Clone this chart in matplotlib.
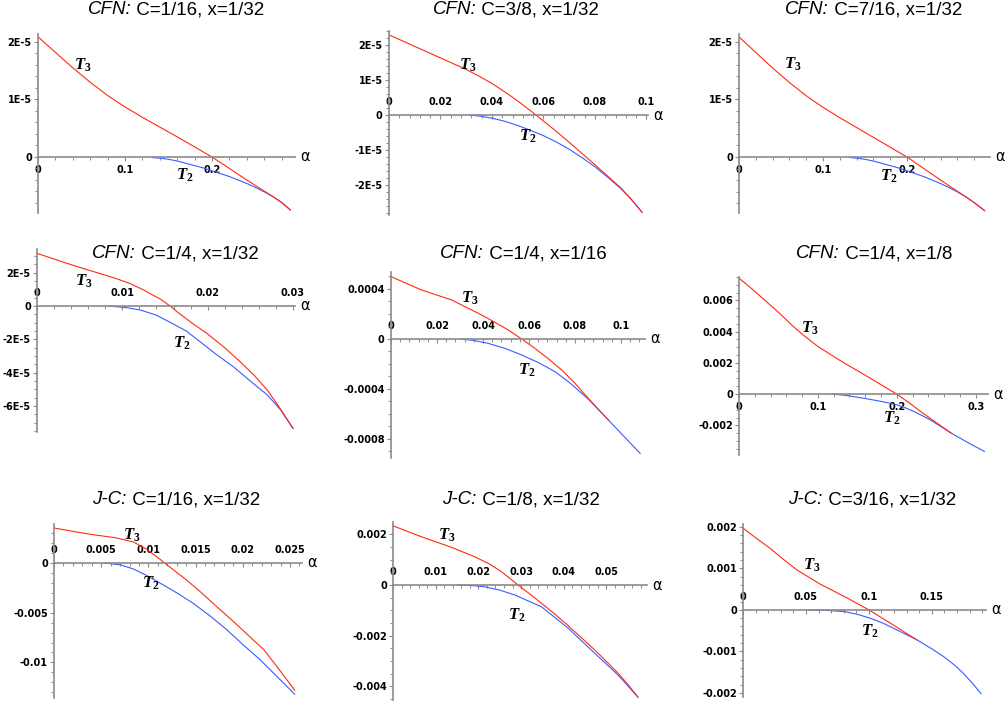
import numpy as np
import matplotlib
matplotlib.use('Agg')
import matplotlib.pyplot as plt
from matplotlib.ticker import MultipleLocator
from matplotlib.offsetbox import TextArea, HPacker, AnnotationBbox

plt.rcParams['font.family'] = ['Liberation Sans', 'DejaVu Sans']
plt.rcParams['mathtext.fontset'] = 'custom'
plt.rcParams['mathtext.it'] = 'Liberation Serif:italic:bold'
plt.rcParams['mathtext.rm'] = 'Liberation Serif:bold'

# --- titles
method = ['CFN', 'CFN', 'CFN', 'CFN', 'CFN', 'CFN', 'J-C', 'J-C', 'J-C']
params = ['C=1/16, x=1/32', 'C=3/8, x=1/32', 'C=7/16, x=1/32',
          'C=1/4, x=1/32', 'C=1/4, x=1/16', 'C=1/4, x=1/8',
          'C=1/16, x=1/32', 'C=1/8, x=1/32', 'C=3/16, x=1/32']

# --- T3 curves (red)
t3_a = [
    [0, 0.02, 0.04, 0.06, 0.08, 0.1, 0.12, 0.14, 0.16, 0.18, 0.2, 0.22, 0.24, 0.255, 0.27, 0.28, 0.29],
    [0, 0.01, 0.02, 0.03, 0.035, 0.04, 0.045, 0.05, 0.055, 0.06, 0.065, 0.07, 0.075, 0.08, 0.085, 0.09, 0.094, 0.0983],
    [0, 0.02, 0.04, 0.06, 0.08, 0.1, 0.12, 0.14, 0.16, 0.18, 0.2, 0.22, 0.24, 0.255, 0.27, 0.28, 0.2925],
    [0, 0.0035, 0.006, 0.0092, 0.011, 0.0125, 0.0145, 0.0156, 0.0164, 0.018, 0.0199, 0.022, 0.0238,
     0.0255, 0.027, 0.0285, 0.03],
    [0, 0.0133, 0.0264, 0.0394, 0.045, 0.051, 0.0568, 0.0626, 0.0685, 0.0742, 0.08, 0.0858, 0.09, 0.0945],
    [0, 0.0177, 0.0346, 0.0515, 0.0684, 0.081, 0.1, 0.116, 0.132, 0.1487, 0.166, 0.183, 0.2, 0.216,
     0.233, 0.251, 0.269],
    [0, 0.0034, 0.0066, 0.0084, 0.0098, 0.0112, 0.0117, 0.014, 0.0156, 0.0172, 0.019, 0.0207, 0.0222,
     0.0236, 0.0255],
    [0, 0.0066, 0.0137, 0.0191, 0.0225, 0.0254, 0.0293, 0.032, 0.0348, 0.038, 0.041, 0.044, 0.0473,
     0.05, 0.0527, 0.055, 0.0574],
    [0, 0.01, 0.0217, 0.032, 0.0429, 0.0614, 0.0825, 0.1, 0.1196, 0.138],
]
t3_v = [
    [2.09e-5, 1.82e-5, 1.55e-5, 1.30e-5, 1.07e-5, 0.87e-5, 0.69e-5, 0.52e-5, 0.35e-5, 0.175e-5, 0.0,
     -0.20e-5, -0.40e-5, -0.545e-5, -0.69e-5, -0.79e-5, -0.92e-5],
    [2.29e-5, 1.96e-5, 1.63e-5, 1.30e-5, 1.11e-5, 0.90e-5, 0.66e-5, 0.40e-5, 0.12e-5, -0.17e-5,
     -0.47e-5, -0.78e-5, -1.10e-5, -1.42e-5, -1.75e-5, -2.08e-5, -2.40e-5, -2.78e-5],
    [2.08e-5, 1.81e-5, 1.54e-5, 1.29e-5, 1.06e-5, 0.86e-5, 0.68e-5, 0.51e-5, 0.34e-5, 0.17e-5, 0.0,
     -0.20e-5, -0.40e-5, -0.545e-5, -0.69e-5, -0.79e-5, -0.93e-5],
    [3.16e-5, 2.56e-5, 2.16e-5, 1.66e-5, 1.33e-5, 0.96e-5, 0.4e-5, 0.0, -0.34e-5, -0.96e-5, -1.64e-5,
     -2.5e-5, -3.34e-5, -4.18e-5, -5.05e-5, -6.15e-5, -7.34e-5],
    [4.99e-4, 3.92e-4, 3.12e-4, 1.92e-4, 1.35e-4, 0.72e-4, 0.0, -0.75e-4, -1.6e-4, -2.48e-4, -3.55e-4,
     -4.75e-4, -5.6e-4, -6.48e-4],
    [0.00743, 0.00668, 0.00593, 0.00517, 0.00435, 0.0038, 0.00305, 0.00254, 0.00203, 0.00154,
     0.00103, 0.00051, 0.0, -0.00057, -0.00122, -0.00186, -0.0025],
    [0.00352, 0.00295, 0.00252, 0.00212, 0.00138, 0.0004, 0.0, -0.00168, -0.00298, -0.00436,
     -0.00588, -0.00738, -0.0087, -0.0104, -0.0128],
    [0.00234, 0.00191, 0.00149, 0.00112, 0.00084, 0.00053, 0.0, -0.00035, -0.00072, -0.00116,
     -0.0016, -0.00206, -0.00257, -0.00302, -0.00348, -0.00392, -0.00443],
    [0.00197, 0.00174, 0.00148, 0.00122, 0.00096, 0.00062, 0.00029, 0.0, -0.00037, -0.00072],
]

# --- T2 curves (blue)
t2_a = [
    [0.131, 0.14, 0.15, 0.16, 0.17, 0.18, 0.19, 0.2, 0.21, 0.22, 0.23, 0.24, 0.25, 0.26, 0.27, 0.28, 0.29],
    [0.0313, 0.035, 0.04, 0.045, 0.05, 0.055, 0.06, 0.065, 0.07, 0.075, 0.08, 0.085, 0.09, 0.094, 0.0983],
    [0.132, 0.14, 0.15, 0.16, 0.17, 0.18, 0.19, 0.2, 0.21, 0.22, 0.23, 0.24, 0.25, 0.26, 0.27, 0.28, 0.2925],
    [0.0084, 0.0105, 0.0121, 0.014, 0.0156, 0.0175, 0.0191, 0.021, 0.023, 0.025, 0.027, 0.0285, 0.03],
    [0.0307, 0.036, 0.0423, 0.05, 0.0568, 0.064, 0.0713, 0.078, 0.0858, 0.0945, 0.1, 0.1083],
    [0.119, 0.135, 0.149, 0.162, 0.175, 0.188, 0.2, 0.211, 0.222, 0.232, 0.242, 0.255, 0.269, 0.29, 0.311],
    [0.0054, 0.0071, 0.0084, 0.0098, 0.0112, 0.013, 0.0147, 0.0165, 0.0183, 0.02, 0.0218, 0.0236, 0.0255],
    [0.0152, 0.0185, 0.0215, 0.025, 0.0285, 0.0348, 0.041, 0.0473, 0.0527, 0.0574],
    [0.052, 0.065, 0.08, 0.09, 0.101, 0.112, 0.122, 0.138, 0.15, 0.159, 0.168, 0.175, 0.182, 0.189],
]
t2_v = [
    [-0.01e-5, -0.02e-5, -0.04e-5, -0.07e-5, -0.11e-5, -0.15e-5, -0.19e-5, -0.24e-5, -0.29e-5,
     -0.34e-5, -0.40e-5, -0.46e-5, -0.53e-5, -0.605e-5, -0.69e-5, -0.79e-5, -0.92e-5],
    [0.0, -0.03e-5, -0.09e-5, -0.18e-5, -0.30e-5, -0.44e-5, -0.59e-5, -0.77e-5, -0.98e-5, -1.22e-5,
     -1.48e-5, -1.78e-5, -2.10e-5, -2.40e-5, -2.78e-5],
    [-0.01e-5, -0.02e-5, -0.04e-5, -0.07e-5, -0.11e-5, -0.15e-5, -0.19e-5, -0.24e-5, -0.29e-5,
     -0.34e-5, -0.40e-5, -0.46e-5, -0.53e-5, -0.605e-5, -0.69e-5, -0.79e-5, -0.93e-5],
    [0.0, -0.1e-5, -0.24e-5, -0.55e-5, -0.98e-5, -1.5e-5, -2.14e-5, -2.9e-5, -3.64e-5, -4.5e-5,
     -5.34e-5, -6.2e-5, -7.34e-5],
    [0.0, -0.12e-4, -0.35e-4, -0.78e-4, -1.28e-4, -1.88e-4, -2.61e-4, -3.55e-4, -4.82e-4, -6.48e-4,
     -7.55e-4, -9.15e-4],
    [0.0, -0.00008, -0.00019, -0.0003, -0.00042, -0.00055, -0.00068, -0.00088, -0.00112, -0.00137,
     -0.00164, -0.00205, -0.0025, -0.0031, -0.00367],
    [0.0, -0.0002, -0.0006, -0.00125, -0.002, -0.003, -0.00403, -0.0053, -0.00671, -0.0082,
     -0.0097, -0.0114, -0.0132],
    [0.0, -0.00002, -0.00007, -0.0002, -0.00039, -0.00086, -0.0017, -0.0027, -0.00355, -0.00443],
    [0.0, -0.00001, -0.00004, -0.0001, -0.0002, -0.00033, -0.00048, -0.00072, -0.00094, -0.00112,
     -0.00133, -0.00153, -0.00176, -0.00202],
]

# --- ticks
xticks = [
    [0, 0.1, 0.2], [0, 0.02, 0.04, 0.06, 0.08, 0.1], [0, 0.1, 0.2],
    [0, 0.01, 0.02, 0.03], [0, 0.02, 0.04, 0.06, 0.08, 0.1], [0, 0.1, 0.2, 0.3],
    [0, 0.005, 0.01, 0.015, 0.02, 0.025], [0, 0.01, 0.02, 0.03, 0.04, 0.05], [0, 0.05, 0.1, 0.15],
]
xlabels = [
    ['0', '0.1', '0.2'], ['0', '0.02', '0.04', '0.06', '0.08', '0.1'], ['0', '0.1', '0.2'],
    ['0', '0.01', '0.02', '0.03'], ['0', '0.02', '0.04', '0.06', '0.08', '0.1'], ['0', '0.1', '0.2', '0.3'],
    ['0', '0.005', '0.01', '0.015', '0.02', '0.025'], ['0', '0.01', '0.02', '0.03', '0.04', '0.05'],
    ['0', '0.05', '0.1', '0.15'],
]
yticks = [
    [0, 1e-5, 2e-5], [-2e-5, -1e-5, 0, 1e-5, 2e-5], [0, 1e-5, 2e-5],
    [-6e-5, -4e-5, -2e-5, 0, 2e-5], [-0.0008, -0.0004, 0, 0.0004], [-0.002, 0, 0.002, 0.004, 0.006],
    [-0.01, -0.005, 0], [-0.004, -0.002, 0, 0.002], [-0.002, -0.001, 0, 0.001, 0.002],
]
ylabels = [
    ['0', '1E-5', '2E-5'], ['-2E-5', '-1E-5', '0', '1E-5', '2E-5'], ['0', '1E-5', '2E-5'],
    ['-6E-5', '-4E-5', '-2E-5', '0', '2E-5'], ['-0.0008', '-0.0004', '0', '0.0004'],
    ['-0.002', '0', '0.002', '0.004', '0.006'],
    ['-0.01', '-0.005', '0'], ['-0.004', '-0.002', '0', '0.002'],
    ['-0.002', '-0.001', '0', '0.001', '0.002'],
]

# label positions for T3 / T2
t3_pos = [(0.052, 1.6e-5), (0.0307, 1.43e-5), (0.0643, 1.6e-5), (0.0055, 1.46e-5), (0.0343, 0.000325),
          (0.0896, 0.00423), (0.0082, 0.00275), (0.0125, 0.00197), (0.0548, 0.00108)]
t2_pos = [(0.169, -0.31e-5), (0.054, -0.62e-5), (0.178, -0.34e-5), (0.017, -2.24e-5), (0.059, -0.000248),
          (0.193, -0.00156), (0.0103, -0.00201), (0.0289, -0.00118), (0.101, -0.00052)]

# layout (pixels): left, right, top, bottom of each plot box; axis ranges
boxes = [(38, 295, 34, 213), (389, 648, 31, 215), (739, 990, 34, 213),
         (37, 295, 249, 432), (391, 645, 272, 458), (739, 988, 277, 455),
         (54, 302, 524, 698), (393, 647, 522, 700), (743, 986, 524, 697)]
xmax = [0.2954, 0.1006, 0.2988, 0.03024, 0.1104, 0.3156, 0.02627, 0.0595, 0.193]
ylims = [(-0.974e-5, 2.139e-5), (-2.857e-5, 2.4e-5), (-0.97e-5, 2.13e-5),
         (-7.56e-5, 3.42e-5), (-0.000952, 0.000536), (-0.0039, 0.0075),
         (-0.01358, 0.00392), (-0.00454, 0.00249), (-0.0021, 0.00207)]
xminor = [0.02, 0.004, 0.02, 0.002, 0.004, 0.02, 0.001, 0.002, 0.01]
yminor = [2e-6, 2e-6, 2e-6, 5e-6, 1e-4, 5e-4, 1e-3, 5e-4, 2e-4]
labels_above = [False, True, False, True, True, False, True, True, True]
title_xy = [(176, 10), (516, 10), (874, 10), (175, 254), (523, 254), (874, 254),
            (176, 500), (521, 500), (872, 500)]

W, H = 1005, 704
RED = '#ff2a10'
BLUE = '#3a5cff'
AX = '#8a8a8a'

fig = plt.figure(figsize=(W / 100, H / 100), dpi=100)

for i in range(9):
    l, r, t, b = boxes[i]
    ax = fig.add_axes([l / W, 1 - b / H, (r - l) / W, (b - t) / H])
    ax.set_facecolor('none')
    ax.plot(t2_a[i], t2_v[i], color=BLUE, lw=0.8)
    ax.plot(t3_a[i], t3_v[i], color=RED, lw=0.8)
    ax.set_xlim(0, xmax[i])
    ax.set_ylim(*ylims[i])

    ax.spines['right'].set_visible(False)
    ax.spines['bottom'].set_position(('data', 0))
    ax.spines['top'].set_position(('data', 0))
    ax.spines['top'].set_visible(False)
    for s in ['left', 'bottom']:
        ax.spines[s].set_color(AX)
        ax.spines[s].set_linewidth(1.2)

    tick_font = dict(fontweight='bold', fontfamily='DejaVu Sans', fontsize=7)
    ax.set_xticks(xticks[i], xlabels[i], **tick_font)
    ax.set_yticks(yticks[i], ylabels[i], **tick_font)
    ax.xaxis.set_minor_locator(MultipleLocator(xminor[i]))
    ax.yaxis.set_minor_locator(MultipleLocator(yminor[i]))
    ax.tick_params(which='major', length=3, width=0.8, color=AX, direction='out')
    ax.tick_params(which='minor', length=2, width=0.7, color=AX, direction='out')
    ax.tick_params(axis='y', pad=1.5)
    if labels_above[i]:
        ax.tick_params(axis='x', which='both', top=False, labeltop=True,
                       labelbottom=False, pad=3)
    else:
        ax.tick_params(axis='x', pad=2.5)

    # axis variable
    ax.annotate('α', xy=(1, 0), xycoords=('axes fraction', 'data'),
                xytext=(5, 0), textcoords='offset pixels',
                ha='left', va='center', fontsize=10.5, family='DejaVu Sans')

    ax.text(t3_pos[i][0], t3_pos[i][1], r'$\mathit{T}_{\mathit{3}}$',
            fontsize=12, ha='center', va='center')
    ax.text(t2_pos[i][0], t2_pos[i][1], r'$\mathit{T}_{\mathit{2}}$',
            fontsize=12, ha='center', va='center')

    # title, italic method name + plain parameters
    pieces = [TextArea(method[i] + ':', textprops=dict(style='italic', fontsize=13.5)),
              TextArea(' ' + params[i], textprops=dict(fontsize=13.5))]
    pack = HPacker(children=pieces, align='baseline', pad=0, sep=0)
    tx, ty = title_xy[i]
    ab = AnnotationBbox(pack, (tx, H - ty), xycoords='figure pixels',
                        frameon=False, box_alignment=(0.5, 0.5), pad=0)
    fig.add_artist(ab)

fig.savefig('out.png', dpi=100)
